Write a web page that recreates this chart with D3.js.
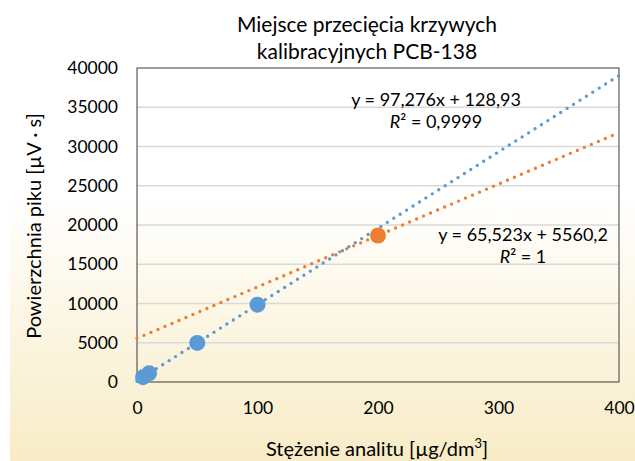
<!DOCTYPE html>
<html>
<head>
<meta charset="utf-8">
<script src="https://cdn.jsdelivr.net/npm/d3@7"></script>
<style>
  body { margin: 0; background: #fff; }
  text { font-family: Lato, "Noto Sans", sans-serif; fill: #000; }
</style>
</head>
<body>
<div id="viz"></div>
<script>
// ===== DATA =====
const blueX = [5, 10, 50, 100];
const blueY = [620, 1100, 4980, 9850];
const orangeX = [200];
const orangeY = [18665];
const blueFit = {a: 97.276, b: 128.93};
const orangeFit = {a: 65.523, b: 5560.2};
const xTicks = [0, 100, 200, 300, 400];
const yTicks = [0, 5000, 10000, 15000, 20000, 25000, 30000, 35000, 40000];
const titleLines = ['Miejsce przecięcia krzywych', 'kalibracyjnych PCB-138'];

const width = 635;
const height = 461;
const margin = {top: 68, right: 16, bottom: 79, left: 137};
const boundedWidth = width - margin.left - margin.right;
const boundedHeight = height - margin.top - margin.bottom;

const svg = d3.select('#viz')
    .append('svg')
        .attr('width', width)
        .attr('height', height);

// background gradient (chart area)
const grad = svg.append('defs').append('linearGradient')
    .attr('id', 'bg')
    .attr('x1', 0).attr('y1', 0).attr('x2', 0).attr('y2', 1);
grad.append('stop').attr('offset', '0').attr('stop-color', '#ffffff');
grad.append('stop').attr('offset', '0.42').attr('stop-color', '#ffffff');
grad.append('stop').attr('offset', '1').attr('stop-color', '#f8ecc6');

svg.append('rect')
    .attr('x', 10).attr('y', 0)
    .attr('width', width - 10).attr('height', height)
    .attr('fill', 'url(#bg)');

const viz = svg.append('g')
    .attr('transform', `translate(${margin.left}, ${margin.top})`);

// scales
const xScale = d3.scaleLinear().domain([0, 400]).range([0, boundedWidth]);
const yScale = d3.scaleLinear().domain([0, 40000]).range([boundedHeight, 0]);

// gridlines
viz.append('g')
    .selectAll('line')
    .data(yTicks.slice(1, -1))
    .join('line')
        .attr('x1', 0).attr('x2', boundedWidth)
        .attr('y1', d => yScale(d)).attr('y2', d => yScale(d))
        .attr('stroke', '#d9d9d9')
        .attr('stroke-width', 1.5);

// plot border
viz.append('rect')
    .attr('width', boundedWidth).attr('height', boundedHeight)
    .attr('fill', 'none')
    .attr('stroke', '#3a3a3a')
    .attr('stroke-width', 1);

// axes (labels only)
const yAxis = d3.axisLeft(yScale).tickValues(yTicks).tickFormat(d3.format('d'))
    .tickSize(0).tickPadding(19);
viz.append('g').call(yAxis)
    .call(g => g.select('.domain').remove())
    .selectAll('text')
        .style('font-size', '17.5px')
        .attr('fill', '#000');

const xAxis = d3.axisBottom(xScale).tickValues(xTicks).tickFormat(d3.format('d'))
    .tickSize(0).tickPadding(20);
viz.append('g')
    .attr('transform', `translate(0, ${boundedHeight})`)
    .call(xAxis)
    .call(g => g.select('.domain').remove())
    .selectAll('text')
        .style('font-size', '17.5px')
        .attr('fill', '#000');

// trendlines
const trend = (fit, color) => {
    const line = d3.line().x(d => xScale(d)).y(d => yScale(fit.a * d + fit.b));
    viz.append('path')
        .datum([0, 400])
        .attr('d', line)
        .attr('fill', 'none')
        .attr('stroke', color)
        .attr('stroke-width', 3.4)
        .attr('stroke-linecap', 'round')
        .attr('stroke-dasharray', '0 7.6');
};
trend(orangeFit, '#ed7d31');
trend(blueFit, '#5b9bd5');

// points
viz.append('g').selectAll('circle')
    .data(blueX.map((x, i) => ({x, y: blueY[i]})))
    .join('circle')
        .attr('cx', d => xScale(d.x))
        .attr('cy', d => yScale(d.y))
        .attr('r', 8)
        .attr('fill', '#5b9bd5');

viz.append('g').selectAll('circle')
    .data(orangeX.map((x, i) => ({x, y: orangeY[i]})))
    .join('circle')
        .attr('cx', d => xScale(d.x))
        .attr('cy', d => yScale(d.y))
        .attr('r', 8)
        .attr('fill', '#ed7d31');

// equation labels
const eq = (cx, cy, eqText, r2) => {
    svg.append('text')
        .attr('x', cx).attr('y', cy)
        .attr('text-anchor', 'middle')
        .style('font-size', '18px')
        .text(eqText);
    const t = svg.append('text')
        .attr('x', cx).attr('y', cy + 22)
        .attr('text-anchor', 'middle')
        .style('font-size', '18px');
    t.append('tspan').attr('font-style', 'italic').text('R');
    t.append('tspan').text('² = ' + r2);
};
eq(436, 106, 'y = 97,276x + 128,93', '0,9999');
eq(523, 241, 'y = 65,523x + 5560,2', '1');

// title
svg.append('g').selectAll('text')
    .data(titleLines)
    .join('text')
        .attr('x', 367)
        .attr('y', (d, i) => 32 + i * 27)
        .attr('text-anchor', 'middle')
        .style('font-size', '21px')
        .text(d => d);

// axis titles
const xt = svg.append('text')
    .attr('x', 377).attr('y', 456)
    .attr('text-anchor', 'middle')
    .style('font-size', '20px');
xt.append('tspan').text('Stężenie analitu [µg/dm');
xt.append('tspan').attr('dy', -8).style('font-size', '13px').text('3');
xt.append('tspan').attr('dy', 8).text(']');

svg.append('text')
    .attr('transform', 'translate(41, 226) rotate(-90)')
    .attr('text-anchor', 'middle')
    .style('font-size', '20px')
    .text('Powierzchnia piku [µV · s]');
</script>
</body>
</html>
